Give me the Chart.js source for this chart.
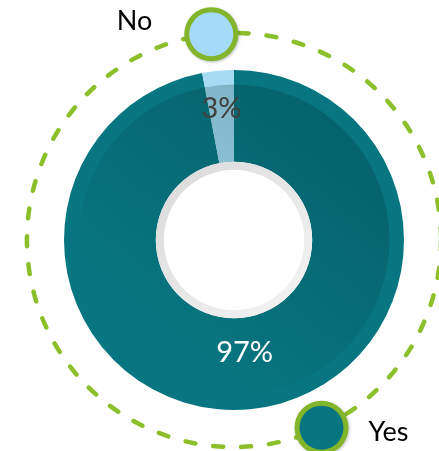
<!DOCTYPE html>
<html>
<head>
<meta charset="utf-8">
<script src="https://cdn.jsdelivr.net/npm/chart.js@4/dist/chart.umd.min.js"></script>
<style>
  html, body { margin: 0; padding: 0; background: #fff; }
  #wrap { width: 439px; height: 451px; position: relative; }
</style>
</head>
<body>
<div id="wrap"><canvas id="pollChart"></canvas></div>
<script>
const labels = ['Yes', 'No'];
const values = [97, 3];
const sliceColors = ['#077680', '#a6dcf3'];
const textColors = ['#ffffff', '#404040'];

const FONT = 'Lato, "Open Sans", sans-serif';

// extra drawing: shading, hole, dashed ring, legend markers, % labels
const decorPlugin = {
  id: 'decor',
  afterDatasetsDraw(chart) {
    const ctx = chart.ctx;
    const meta = chart.getDatasetMeta(0);
    const first = meta.data[0];
    const cx = first.x, cy = first.y;
    const R = first.outerRadius, r = first.innerRadius;

    // darker inner band, fading toward bottom-left
    ctx.save();
    ctx.beginPath();
    ctx.arc(cx, cy, R * 0.915, 0, Math.PI * 2);
    ctx.arc(cx, cy, r, 0, Math.PI * 2, true);
    ctx.clip();
    const g = ctx.createLinearGradient(cx + R * 0.6, cy - R * 0.8, cx - R * 0.5, cy + R * 0.6);
    g.addColorStop(0, 'rgba(0,45,55,0.28)');
    g.addColorStop(0.55, 'rgba(0,45,55,0.12)');
    g.addColorStop(1, 'rgba(0,45,55,0)');
    ctx.fillStyle = g;
    ctx.fillRect(cx - R, cy - R, R * 2, R * 2);
    ctx.restore();

    // hole with grey rim
    ctx.save();
    const rim = ctx.createLinearGradient(cx - r, cy - r, cx + r, cy + r);
    rim.addColorStop(0, '#d9d9d9');
    rim.addColorStop(1, '#f5f5f5');
    ctx.fillStyle = rim;
    ctx.beginPath();
    ctx.arc(cx, cy, r, 0, Math.PI * 2);
    ctx.fill();
    ctx.fillStyle = '#ffffff';
    ctx.beginPath();
    ctx.arc(cx, cy, r - 8, 0, Math.PI * 2);
    ctx.fill();
    ctx.restore();

    // dashed outer ring
    const ringR = R * 1.218;
    ctx.save();
    ctx.strokeStyle = '#8cbf2a';
    ctx.lineWidth = 4.5;
    ctx.lineCap = 'round';
    ctx.setLineDash([10, 18]);
    ctx.beginPath();
    ctx.arc(cx, cy, ringR, 0, Math.PI * 2);
    ctx.stroke();
    ctx.restore();

    // percentage labels
    const total = values.reduce((a, b) => a + b, 0);
    const radFrac = [0.38, 0.59];
    meta.data.forEach((arc, i) => {
      const mid = (arc.startAngle + arc.endAngle) / 2;
      const rr = r + (R - r) * radFrac[i];
      ctx.save();
      ctx.font = '29px ' + FONT;
      ctx.fillStyle = textColors[i];
      ctx.textAlign = 'center';
      ctx.textBaseline = 'middle';
      ctx.fillText(Math.round(values[i] / total * 100) + '%', cx + Math.cos(mid) * rr, cy + Math.sin(mid) * rr);
      ctx.restore();
    });

    // legend markers on the dashed ring
    const markerAngles = [155, -6.3]; // degrees clockwise from top
    labels.forEach((lab, i) => {
      const a = (markerAngles[i] - 90) * Math.PI / 180;
      const mx = cx + Math.cos(a) * ringR;
      const my = cy + Math.sin(a) * ringR;
      ctx.save();
      ctx.shadowColor = 'rgba(0,0,0,0.25)';
      ctx.shadowBlur = 3;
      ctx.shadowOffsetX = 1;
      ctx.shadowOffsetY = 1;
      ctx.fillStyle = '#82b52a';
      ctx.beginPath();
      ctx.arc(mx, my, 27, 0, Math.PI * 2);
      ctx.fill();
      ctx.restore();
      ctx.save();
      ctx.fillStyle = i === 0 ? '#077680' : '#a3dbf8';
      ctx.beginPath();
      ctx.arc(mx, my, 22, 0, Math.PI * 2);
      ctx.fill();
      ctx.font = '27px ' + FONT;
      ctx.fillStyle = '#000000';
      ctx.textBaseline = 'alphabetic';
      if (i === 0) {
        ctx.textAlign = 'left';
        ctx.fillText(lab, mx + 47, my + 13);
      } else {
        ctx.textAlign = 'right';
        ctx.fillText(lab, mx - 59, my - 4);
      }
      ctx.restore();
    });
  }
};

new Chart(document.getElementById('pollChart'), {
  type: 'doughnut',
  data: {
    labels: labels,
    datasets: [{
      data: values,
      backgroundColor: sliceColors,
      borderWidth: 0,
      hoverOffset: 0
    }]
  },
  options: {
    responsive: true,
    maintainAspectRatio: false,
    animation: false,
    cutout: '46%',
    rotation: 0,
    layout: { padding: { left: 64, right: 35, top: 70, bottom: 41 } },
    events: [],
    plugins: {
      legend: { display: false },
      tooltip: { enabled: false }
    }
  },
  plugins: [decorPlugin]
});
</script>
</body>
</html>
